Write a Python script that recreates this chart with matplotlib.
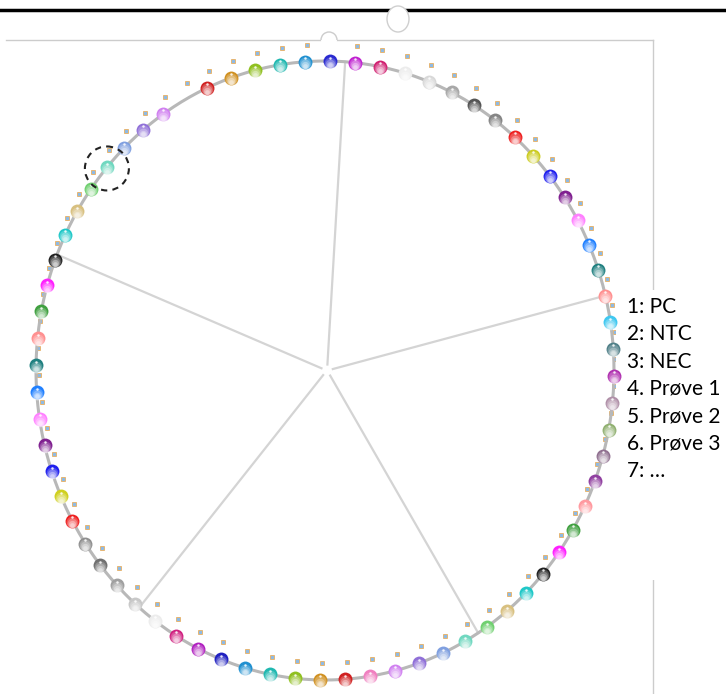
import numpy as np
import matplotlib.pyplot as plt
from matplotlib.patches import Ellipse, Circle, Arc, Rectangle

# rotor slots, clockwise from the top (None = empty slot)
slot_colors = [
    "#2a2ad0", "#c020d0", "#d02070", "#ececec", "#d8d8d8", "#a8a8a8", "#555555", "#858585",
    "#ee2020", "#cccc20", "#2020ee", "#802090", "#ff80ff", "#2080ff", "#208080", "#ff9090",
    "#40c8f0", "#508088", "#b030b0", "#b090a8", "#90b070", "#907090", "#9040a0", "#ff9aa0",
    "#40a040", "#ff20ff", "#202020", "#20c8c8", "#d8c080", "#70d070", "#70d8c0", "#80a0e0",
    "#9070d8", "#d080f0", "#f080c0", "#d02020", "#d09020", "#90c020", "#20b8b0", "#2090d0",
    "#2020c0", "#b020c0", "#d02080", "#ececec", "#c8c8c8", "#a0a0a0", "#707070", "#909090",
    "#ee2020", "#d0d020", "#2020ee", "#802090", "#ff80ff", "#2080ff", "#208080", "#ff9090",
    "#40a040", "#ff20ff", "#202020", "#20c8c8", "#d8c080", "#70d070", "#70d8c0", "#80a0e0",
    "#9070d8", "#d080f0", None, "#d02020", "#d09020", "#90c020", "#20b8b0", "#2090d0",
]
spoke_angles = [4, 76, 148, 220, 292]
highlight_slot = 62
legend_labels = ["1: PC", "2: NTC", "3: NEC", "4. Prøve 1", "5. Prøve 2", "6. Prøve 3", "7: \u2026"]

cx, cy, rx, ry = 325, 370.5, 289, 309.5
n = len(slot_colors)
ang = np.radians(1 + 360.0 / n * np.arange(n))
px = cx + rx * np.sin(ang)
py = cy - ry * np.cos(ang)

fig = plt.figure(figsize=(7.26, 6.94), dpi=100)
ax = fig.add_axes([0, 0, 1, 1])
ax.set_xlim(0, 726); ax.set_ylim(694, 0); ax.axis("off")

# header bits
ax.plot([0, 726], [10, 10], color="black", lw=2.5, zorder=1)
ax.add_patch(Ellipse((398, 19), 22, 26, fc="white", ec="#cfcfcf", lw=1, zorder=2))
ax.plot([6, 653], [40, 40], color="#cccccc", lw=1, zorder=1)
ax.plot([653, 653], [40, 694], color="#cccccc", lw=1, zorder=1)
ax.add_patch(Circle((329, 40), 8, fc="white", ec="none", zorder=2))
ax.add_patch(Arc((329, 40), 16, 16, theta1=180, theta2=360, ec="#cccccc", lw=1, zorder=2))

# tiny slot labels
for i in range(1, n):
    ax.plot(px[i] + 2, py[i] - 17, marker="s", ms=3.2, mfc="#7aaee0", mec="#f0a848", mew=0.6,
            alpha=0.85, zorder=2)

# legend background
ax.add_patch(Rectangle((616, 290), 110, 290, fc="white", ec="none", zorder=3))

# spokes
for a in spoke_angles:
    t = np.radians(a)
    ax.plot([cx + 2 + 6 * np.sin(t), cx + rx * np.sin(t)],
            [cy - 6 * np.cos(t), cy - ry * np.cos(t)], color="#d4d4d4", lw=1.6, zorder=3)

# ring
t = np.linspace(0, 2 * np.pi, 400)
ax.plot(cx + rx * np.sin(t), cy - ry * np.cos(t), color="#b8b8b8", lw=2.2, zorder=4)

# beads (soft gloss: colour on top, fading to white below)
for i, c in enumerate(slot_colors):
    if c is None:
        continue
    ax.plot(px[i], py[i], "o", ms=10, mfc=c, mec="none", zorder=5)
    for ms, dy, al in [(8.5, 1.5, 0.22), (7, 2.6, 0.28), (5.2, 3.6, 0.35), (3.4, 4.4, 0.4)]:
        ax.plot(px[i], py[i] + dy, "o", ms=ms, mfc="white", mec="none", alpha=al, zorder=6)
    ax.plot(px[i], py[i] - 3.5, "o", ms=1.8, mfc="white", mec="none", alpha=0.85, zorder=7)

# highlighted slot
ax.add_patch(Circle((px[highlight_slot], py[highlight_slot] + 1), 22, fc="none", ec="#222222",
                    lw=1.5, ls=(0, (3, 2.5)), zorder=8))

for k, lab in enumerate(legend_labels):
    ax.text(627, 307 + 27.3 * k, lab, fontsize=15, family=["Lato", "DejaVu Sans"],
            va="center", ha="left", color="black", zorder=9)

fig.savefig("out.png", dpi=100)
